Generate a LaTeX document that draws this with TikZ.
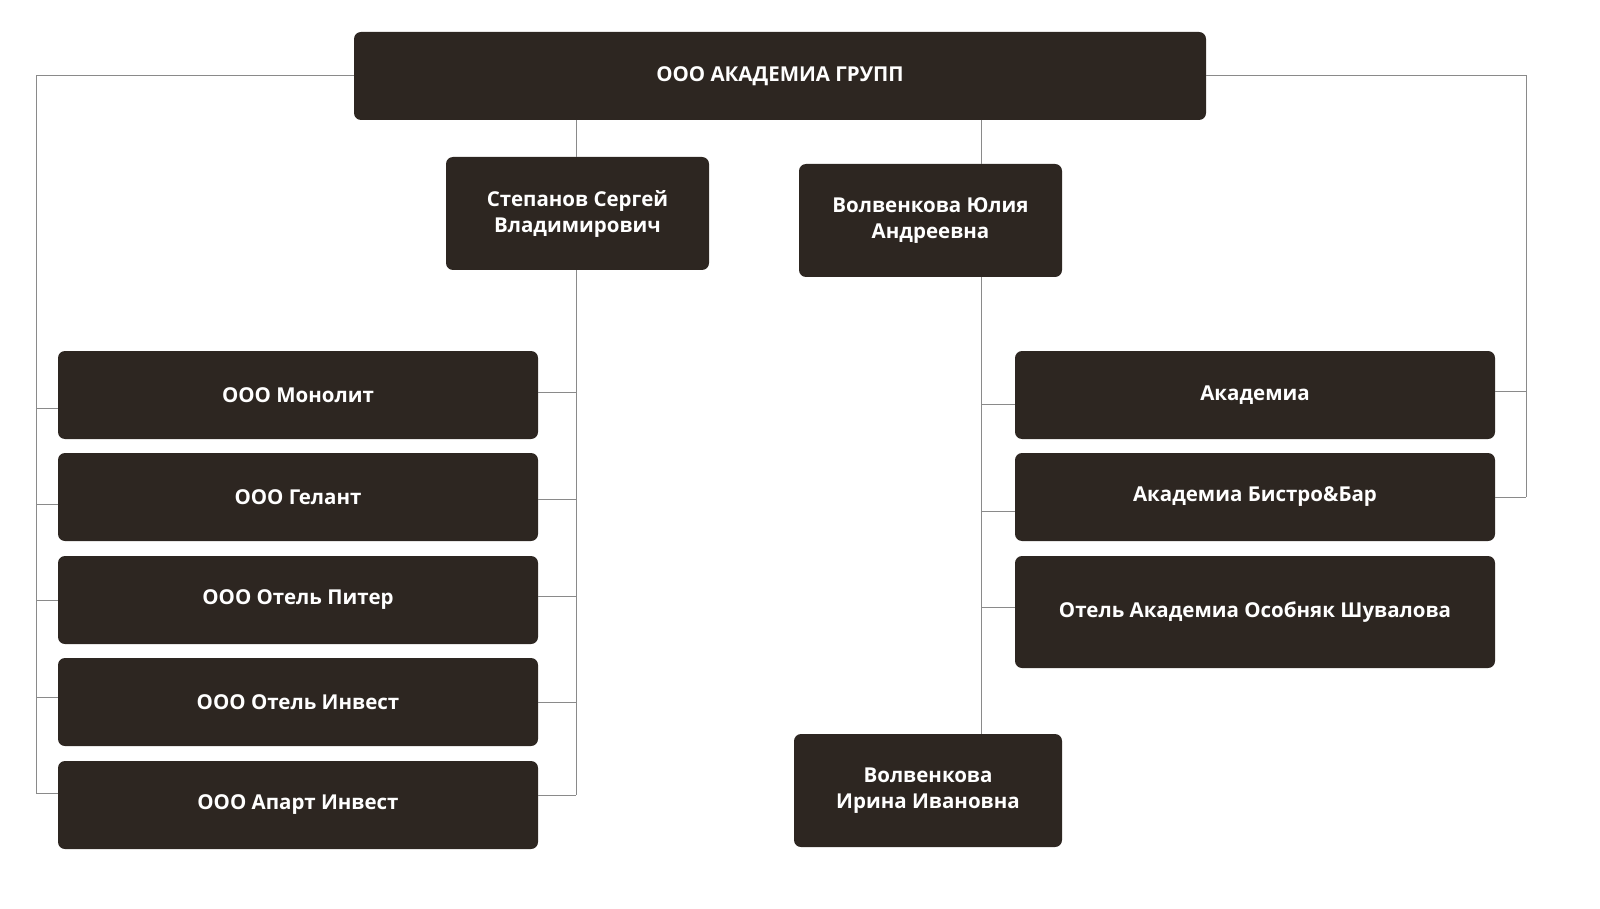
\documentclass[tikz,border=0pt]{standalone}
\usepackage{fontspec}
\setmainfont{Open Sans}
\begin{document}
\begin{tikzpicture}[x=1pt,y=-1pt,
  box/.style={draw=none,fill=boxc,rounded corners=7pt,text=white,align=center,
    font=\fontsize{20.5}{26}\selectfont\bfseries,inner sep=0pt},
  ln/.style={draw=linec,line width=0.8pt}]
\definecolor{boxc}{HTML}{2D2621}
\definecolor{linec}{HTML}{8A8A8A}
\useasboundingbox (0,0) rectangle (1600,909);
\newcommand{\bx}[6]{\node[box,minimum width={#4-#2},minimum height={#5-#3}] (#1) at ({(#2+#4)/2},{(#3+#5)/2}) {#6};}
\bx{top}{354}{32}{1206}{120}{ООО АКАДЕМИА ГРУПП}
\bx{st}{446}{157}{709}{270}{Степанов Сергей\\Владимирович}
\bx{vu}{799}{164}{1062}{277}{Волвенкова Юлия\\Андреевна}
\bx{l1}{58}{351}{538}{439}{ООО Монолит}
\bx{l2}{58}{453}{538}{541}{ООО Гелант}
\bx{l3}{58}{556}{538}{644}{ООО Отель Питер}
\bx{l4}{58}{658}{538}{746}{ООО Отель Инвест}
\bx{l5}{58}{761}{538}{849}{ООО Апарт Инвест}
\bx{r1}{1015}{351}{1495}{439}{Академиа}
\bx{r2}{1015}{453}{1495}{541}{Академиа Бистро\&Бар}
\bx{r3}{1015}{556}{1495}{668}{Отель Академиа Особняк Шувалова}
\bx{bi}{794}{734}{1062}{847}{Волвенкова\\Ирина Ивановна}
\coordinate (a) at (36,75);
\draw[ln] (top.west |- a) -- (a) -- (36,793);
\foreach \n/\y in {l1/408,l2/504,l3/600,l4/697,l5/793} \draw[ln] (36,\y) -- (\n.west |- 0,\y);
\draw[ln] (576,120) -- (st.north -| 576,0);
\draw[ln] (st.south -| 576,0) -- (576,795);
\foreach \n/\y in {l1/392,l2/499,l3/596,l4/702,l5/795} \draw[ln] (\n.east |- 0,\y) -- (576,\y);
\draw[ln] (981,120) -- (vu.north -| 981,0);
\draw[ln] (vu.south -| 981,0) -- (bi.north -| 981,0);
\foreach \n/\y in {r1/404,r2/511,r3/607} \draw[ln] (981,\y) -- (\n.west |- 0,\y);
\draw[ln] (top.east |- a) -- (1526,75) -- (1526,497);
\foreach \n/\y in {r1/391,r2/497} \draw[ln] (\n.east |- 0,\y) -- (1526,\y);
\end{tikzpicture}
\end{document}
